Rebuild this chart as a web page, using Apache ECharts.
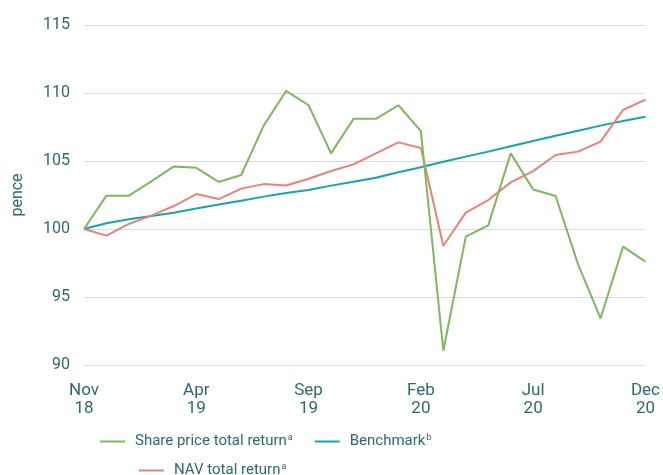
<!DOCTYPE html>
<html>
<head>
<meta charset="utf-8">
<script src="https://cdn.jsdelivr.net/npm/echarts@6/dist/echarts.min.js"></script>
<style>
  * { margin: 0; padding: 0; }
  #chart-container { width: 663px; height: 475px; background: #fff; }
</style>
</head>
<body>
<div id="chart-container"></div>
<script>
  var months = ['Nov\n18', 'Dec\n18', 'Jan\n19', 'Feb\n19', 'Mar\n19', 'Apr\n19', 'May\n19', 'Jun\n19', 'Jul\n19',
    'Aug\n19', 'Sep\n19', 'Oct\n19', 'Nov\n19', 'Dec\n19', 'Jan\n20', 'Feb\n20', 'Mar\n20', 'Apr\n20', 'May\n20',
    'Jun\n20', 'Jul\n20', 'Aug\n20', 'Sep\n20', 'Oct\n20', 'Nov\n20', 'Dec\n20']

  var sharePrice = [100, 102.45, 102.45, 103.5, 104.6, 104.5, 103.46, 103.97, 107.6, 110.15, 109.1, 105.56, 108.1,
    108.1, 109.1, 107.2, 91.05, 99.44, 100.27, 105.56, 102.9, 102.43, 97.4, 93.43, 98.7, 97.6]

  var navReturn = [100, 99.51, 100.37, 100.98, 101.69, 102.57, 102.2, 102.97, 103.3, 103.2, 103.7, 104.26, 104.75,
    105.56, 106.37, 105.96, 98.77, 101.2, 102.13, 103.43, 104.26, 105.44, 105.69, 106.42, 108.75, 109.51]

  var benchmark = [100, 100.42, 100.71, 100.96, 101.2, 101.5, 101.8, 102.08, 102.38, 102.65, 102.87, 103.19, 103.48,
    103.77, 104.17, 104.54, 104.95, 105.32, 105.69, 106.08, 106.47, 106.86, 107.23, 107.6, 107.94, 108.26]

  var textColor = '#2b6a72'
  var chartDom = document.getElementById('chart-container')
  var myChart = echarts.init(chartDom, null, { renderer: 'canvas' })

  function legendText(name) {
    if (name === 'Share price total return') return '{t|' + name + '}{sup|a}'
    if (name === 'NAV total return') return '{t|' + name + '}{sup|a}'
    if (name === 'Benchmark') return '{t|' + name + '}{sup|b}'
    return name
  }

  var legendStyle = {
    color: textColor,
    fontSize: 15,
    fontFamily: 'Roboto',
    rich: {
      t: { fontSize: 15, color: textColor, fontFamily: 'Roboto', padding: [0, 0, 0, 5] },
      sup: { fontSize: 9, verticalAlign: 'top', padding: [0, 0, 8, 1], color: textColor, fontFamily: 'Roboto' }
    }
  }

  var option = {
    animation: false,
    textStyle: { fontFamily: 'Roboto' },
    grid: { left: 84, right: 17, top: 25, bottom: 110 },
    legend: [
      {
        data: ['Share price total return', 'Benchmark'],
        left: 95,
        top: 428,
        itemWidth: 25,
        itemHeight: 2,
        itemGap: 22,
        icon: 'rect',
        formatter: legendText,
        textStyle: legendStyle
      },
      {
        data: ['NAV total return'],
        left: 134,
        top: 457,
        itemWidth: 25,
        itemHeight: 2,
        icon: 'rect',
        formatter: legendText,
        textStyle: legendStyle
      }
    ],
    xAxis: {
      type: 'category',
      boundaryGap: false,
      data: months,
      axisLine: { show: false },
      axisTick: { show: false },
      axisLabel: {
        interval: 4,
        color: textColor,
        fontSize: 17,
        lineHeight: 18,
        margin: 17
      }
    },
    yAxis: {
      type: 'value',
      min: 90,
      max: 115,
      interval: 5,
      name: 'pence',
      nameLocation: 'middle',
      nameGap: 58,
      nameTextStyle: { color: textColor, fontSize: 16 },
      axisLine: { show: false },
      axisTick: { show: false },
      axisLabel: { color: textColor, fontSize: 16, margin: 14 },
      splitLine: { lineStyle: { color: '#d9dcdf', width: 1 } }
    },
    series: [
      {
        name: 'Share price total return',
        type: 'line',
        data: sharePrice,
        showSymbol: false,
        color: '#7cba5c',
        lineStyle: { width: 2 },
        z: 3
      },
      {
        name: 'Benchmark',
        type: 'line',
        data: benchmark,
        showSymbol: false,
        color: '#14a6a8',
        lineStyle: { width: 2 },
        z: 2
      },
      {
        name: 'NAV total return',
        type: 'line',
        data: navReturn,
        showSymbol: false,
        color: '#ea8278',
        lineStyle: { width: 2 },
        z: 2
      }
    ]
  }

  myChart.setOption(option)
  window.addEventListener('resize', myChart.resize)
</script>
</body>
</html>
